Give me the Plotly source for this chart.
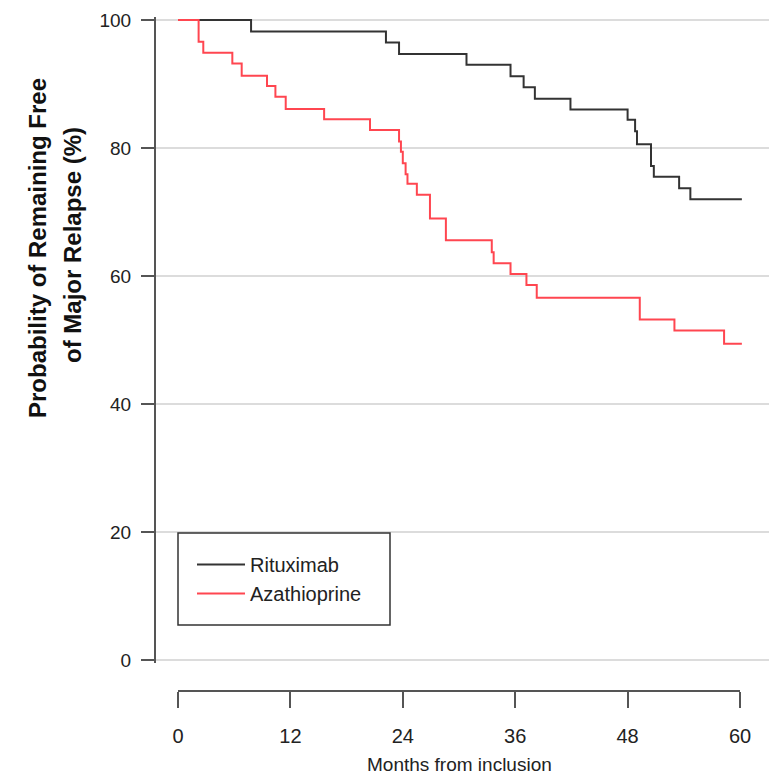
import plotly.graph_objects as go

# ---- data (months, % free of major relapse) ----
ritux_t = [0, 7.8, 22.2, 23.6, 30.8, 35.5, 36.9, 38.1, 41.9, 48.0, 48.8, 49.0, 50.5, 50.8, 53.5, 54.7, 60.2]
ritux_s = [100, 98.2, 96.5, 94.7, 93.0, 91.2, 89.5, 87.7, 86.0, 84.4, 82.6, 80.6, 77.2, 75.5, 73.7, 72.0, 72.0]

aza_t = [0, 2.2, 2.7, 5.8, 6.8, 9.5, 10.4, 11.5, 15.6, 20.5, 23.6, 23.8, 24.0, 24.3, 24.5, 25.5, 26.9, 28.6,
         33.5, 33.7, 35.5, 37.2, 38.3, 49.3, 53.0, 58.3, 60.2]
aza_s = [100, 96.6, 94.9, 93.2, 91.3, 89.7, 88.0, 86.1, 84.5, 82.8, 81.0, 79.4, 77.6, 75.9, 74.4, 72.7, 69.0, 65.6,
         63.7, 62.0, 60.3, 58.6, 56.6, 53.2, 51.5, 49.4, 49.4]

x_ticks = [0, 12, 24, 36, 48, 60]
y_ticks = [0, 20, 40, 60, 80, 100]

W, H = 769, 774
L = 155
FONT = "Liberation Sans, Arial, Helvetica, sans-serif"

def px_x(p):
    return (p - L) / (W - L)

def px_y(p):
    return 1 - p / H

Y_PAD = 0.5            # range padding so the 0 and 100 grid lines are drawn
PX_PER_UNIT = (660 - 20) / 100
y_domain = [px_y(660 + Y_PAD * PX_PER_UNIT), px_y(20 - Y_PAD * PX_PER_UNIT)]

fig = go.Figure()
fig.add_trace(go.Scatter(x=ritux_t, y=ritux_s, mode="lines", line_shape="hv",
                         line=dict(color="#333333", width=2), name="Rituximab",
                         legendgroup="a"))
fig.add_trace(go.Scatter(x=aza_t, y=aza_s, mode="lines", line_shape="hv",
                         line=dict(color="#ff4650", width=2), name="Azathioprine",
                         legendgroup="b"))
# helper trace so the separate R-style x axis is drawn
fig.add_trace(go.Scatter(x=[x_ticks[0], x_ticks[-1]], y=[None, None], xaxis="x2", yaxis="y2",
                         mode="lines", showlegend=False, hoverinfo="skip"))

x_per_px = 60 / (740 - 178)
fig.update_layout(
    width=W, height=H,
    margin=dict(l=L, r=0, t=0, b=0, pad=0),
    paper_bgcolor="white", plot_bgcolor="rgba(0,0,0,0)",
    font=dict(family=FONT, color="#222222"),
    xaxis=dict(domain=[0, 1], range=[-(178 - L) * x_per_px, (W - 178) * x_per_px],
               visible=False, showgrid=False, zeroline=False),
    xaxis2=dict(domain=[px_x(178), px_x(740)], range=[0, 60], anchor="free",
                position=px_y(691), showgrid=False, zeroline=False,
                showline=True, linecolor="#555555", linewidth=2,
                ticks="outside", ticklen=16, tickwidth=2, tickcolor="#555555",
                tickvals=x_ticks, ticktext=[str(v) for v in x_ticks],
                tickfont=dict(size=20, family=FONT, color="#222222"),
                ticklabelstandoff=11, automargin=False),
    yaxis=dict(domain=y_domain, range=[-Y_PAD, 100 + Y_PAD], anchor="free", position=0,
               showline=True, linecolor="#555555", linewidth=2,
               ticks="outside", ticklen=13, tickwidth=2, tickcolor="#555555",
               tickvals=y_ticks, ticktext=[str(v) for v in y_ticks],
               tickfont=dict(size=19, family=FONT, color="#222222"),
               showgrid=True, gridcolor="#dcdcdc", gridwidth=2, zeroline=False,
               ticklabelstandoff=6, automargin=False),
    yaxis2=dict(domain=y_domain, range=[0, 1], anchor="x2", visible=False,
                showgrid=False, zeroline=False),
    showlegend=True,
    legend=dict(x=px_x(192), y=px_y(545), xanchor="left", yanchor="top",
                bgcolor="rgba(0,0,0,0)", borderwidth=0,
                font=dict(size=20, family=FONT, color="#222222"),
                traceorder="grouped", tracegroupgap=0, itemwidth=48),
    shapes=[dict(type="rect", xref="paper", yref="paper",
                 x0=px_x(178), x1=px_x(390), y0=px_y(625), y1=px_y(533),
                 line=dict(color="#333333", width=1.5), fillcolor="rgba(0,0,0,0)",
                 layer="above")],
    annotations=[
        dict(text="<b>Probability of Remaining Free</b>", xref="paper", yref="paper",
             x=px_x(38), y=px_y(248), xanchor="center", yanchor="middle", textangle=-90,
             showarrow=False, font=dict(size=24, family=FONT, color="#111111")),
        dict(text="<b>of Major Relapse (%)</b>", xref="paper", yref="paper",
             x=px_x(73), y=px_y(245), xanchor="center", yanchor="middle", textangle=-90,
             showarrow=False, font=dict(size=24, family=FONT, color="#111111")),
        dict(text="Months from inclusion", xref="paper", yref="paper",
             x=px_x(459), y=px_y(752), xanchor="center", yanchor="top",
             showarrow=False, font=dict(size=19, family=FONT, color="#222222")),
    ],
)

fig.write_html("out.html")
